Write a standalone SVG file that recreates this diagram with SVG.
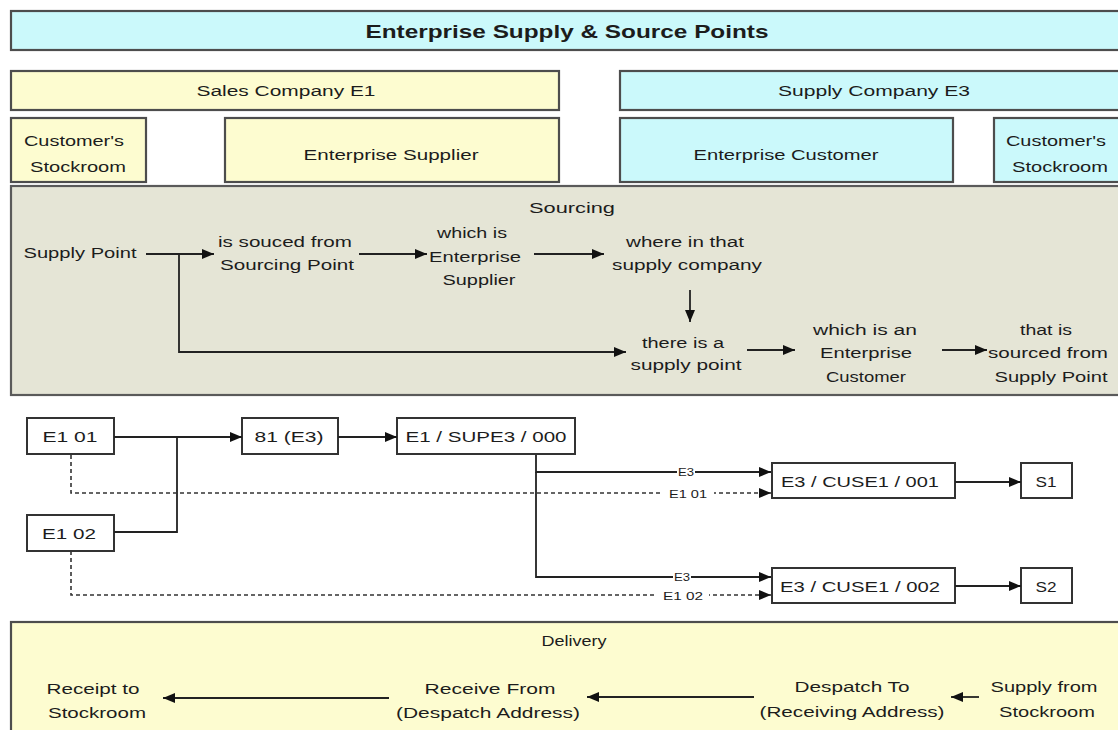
<svg xmlns="http://www.w3.org/2000/svg" width="1118" height="730" viewBox="0 0 1118 730">
<defs>
<marker id="ah" markerUnits="userSpaceOnUse" markerWidth="13" markerHeight="11" refX="12" refY="5" orient="auto">
<path d="M0,0 L12,5 L0,10 z" fill="#111"/>
</marker>
<style>
text{font-family:"Liberation Sans",Arial,sans-serif;font-size:14px;fill:#1c1c1c;text-anchor:middle}
.t{font-size:19px;font-weight:bold}
.b{font-size:15px}
.s{font-size:10px}
.cy{fill:#cbf9fb;stroke:#4d4d4d;stroke-width:2.2}
.yl{fill:#fdfcd0;stroke:#4d4d4d;stroke-width:2.2}
.gr{fill:#e5e5d6;stroke:#5a5a5a;stroke-width:2.2}
.nd{fill:#fff;stroke:#333;stroke-width:2}
.ln{fill:none;stroke:#222;stroke-width:1.8}
.ds{fill:none;stroke:#333;stroke-width:1.6;stroke-dasharray:4,3}
.lb{fill:#fff;stroke:none}
</style>
</defs>
<rect width="1118" height="730" fill="#fff"/>

<g id="title"><rect class="cy" x="11" y="11" width="1120" height="39"/><text class="t" x="567" y="38" textLength="403" lengthAdjust="spacingAndGlyphs">Enterprise Supply &amp; Source Points</text></g>

<g id="sales-company"><rect class="yl" x="11" y="71" width="548" height="39"/><text x="286" y="96" textLength="179" lengthAdjust="spacingAndGlyphs">Sales Company E1</text></g>
<g id="supply-company"><rect class="cy" x="620" y="71" width="510" height="39"/><text x="874" y="96" textLength="192" lengthAdjust="spacingAndGlyphs">Supply Company E3</text></g>

<g id="customers-stockroom-left"><rect class="yl" x="11" y="118" width="135" height="64"/><text x="74" y="146" textLength="100" lengthAdjust="spacingAndGlyphs">Customer's</text><text x="78" y="172" textLength="96" lengthAdjust="spacingAndGlyphs">Stockroom</text></g>
<g id="enterprise-supplier"><rect class="yl" x="225" y="118" width="334" height="64"/><text x="391" y="160" textLength="175" lengthAdjust="spacingAndGlyphs">Enterprise Supplier</text></g>
<g id="enterprise-customer"><rect class="cy" x="620" y="118" width="333" height="64"/><text x="786" y="160" textLength="185" lengthAdjust="spacingAndGlyphs">Enterprise Customer</text></g>
<g id="customers-stockroom-right"><rect class="cy" x="994" y="118" width="140" height="64"/><text x="1056" y="146" textLength="100" lengthAdjust="spacingAndGlyphs">Customer's</text><text x="1060" y="172" textLength="96" lengthAdjust="spacingAndGlyphs">Stockroom</text></g>

<g id="sourcing">
<rect class="gr" x="11" y="186" width="1120" height="209"/>
<text x="572" y="213" textLength="86" lengthAdjust="spacingAndGlyphs">Sourcing</text>
<text x="80" y="258" textLength="113" lengthAdjust="spacingAndGlyphs">Supply Point</text>
<text x="285" y="247" textLength="134" lengthAdjust="spacingAndGlyphs">is souced from</text>
<text x="287" y="270" textLength="134" lengthAdjust="spacingAndGlyphs">Sourcing Point</text>
<text x="472" y="238" textLength="70" lengthAdjust="spacingAndGlyphs">which is</text>
<text x="475" y="262" textLength="92" lengthAdjust="spacingAndGlyphs">Enterprise</text>
<text x="479" y="285" textLength="73" lengthAdjust="spacingAndGlyphs">Supplier</text>
<text x="685" y="247" textLength="118" lengthAdjust="spacingAndGlyphs">where in that</text>
<text x="687" y="270" textLength="150" lengthAdjust="spacingAndGlyphs">supply company</text>
<text x="683" y="348" textLength="82" lengthAdjust="spacingAndGlyphs">there is a</text>
<text x="686" y="370" textLength="111" lengthAdjust="spacingAndGlyphs">supply point</text>
<text x="865" y="335" textLength="104" lengthAdjust="spacingAndGlyphs">which is an</text>
<text x="866" y="358" textLength="92" lengthAdjust="spacingAndGlyphs">Enterprise</text>
<text x="866" y="382" textLength="80" lengthAdjust="spacingAndGlyphs">Customer</text>
<text x="1046" y="335" textLength="52" lengthAdjust="spacingAndGlyphs">that is</text>
<text x="1048" y="358" textLength="120" lengthAdjust="spacingAndGlyphs">sourced from</text>
<text x="1051" y="382" textLength="113" lengthAdjust="spacingAndGlyphs">Supply Point</text>
</g>

<g id="e1-01"><rect class="nd" x="27" y="418" width="87" height="36"/><text class="b" x="70" y="442" textLength="55" lengthAdjust="spacingAndGlyphs">E1 01</text></g>
<g id="e1-02"><rect class="nd" x="27" y="515" width="87" height="36"/><text class="b" x="69" y="539" textLength="54" lengthAdjust="spacingAndGlyphs">E1 02</text></g>
<g id="n81-e3"><rect class="nd" x="242" y="418" width="96" height="36"/><text class="b" x="289" y="442" textLength="69" lengthAdjust="spacingAndGlyphs">81 (E3)</text></g>
<g id="e1-supe3-000"><rect class="nd" x="397" y="418" width="178" height="36"/><text class="b" x="486" y="442" textLength="161" lengthAdjust="spacingAndGlyphs">E1 / SUPE3 / 000</text></g>
<g id="e3-cuse1-001"><rect class="nd" x="772" y="463" width="183" height="35"/><text class="b" x="860" y="487" textLength="158" lengthAdjust="spacingAndGlyphs">E3 / CUSE1 / 001</text></g>
<g id="s1"><rect class="nd" x="1021" y="463" width="51" height="35"/><text class="b" x="1046" y="487" textLength="21" lengthAdjust="spacingAndGlyphs">S1</text></g>
<g id="e3-cuse1-002"><rect class="nd" x="772" y="568" width="183" height="35"/><text class="b" x="860" y="592" textLength="160" lengthAdjust="spacingAndGlyphs">E3 / CUSE1 / 002</text></g>
<g id="s2"><rect class="nd" x="1021" y="568" width="51" height="35"/><text class="b" x="1046" y="592" textLength="21" lengthAdjust="spacingAndGlyphs">S2</text></g>

<g id="delivery">
<rect class="yl" x="11" y="622" width="1120" height="120"/>
<text x="574" y="646" textLength="65" lengthAdjust="spacingAndGlyphs">Delivery</text>
<text x="93" y="694" textLength="93" lengthAdjust="spacingAndGlyphs">Receipt to</text>
<text x="97" y="718" textLength="98" lengthAdjust="spacingAndGlyphs">Stockroom</text>
<text x="490" y="694" textLength="131" lengthAdjust="spacingAndGlyphs">Receive From</text>
<text x="488" y="718" textLength="184" lengthAdjust="spacingAndGlyphs">(Despatch Address)</text>
<text x="852" y="692" textLength="115" lengthAdjust="spacingAndGlyphs">Despatch To</text>
<text x="852" y="717" textLength="185" lengthAdjust="spacingAndGlyphs">(Receiving Address)</text>
<text x="1044" y="692" textLength="107" lengthAdjust="spacingAndGlyphs">Supply from</text>
<text x="1047" y="717" textLength="96" lengthAdjust="spacingAndGlyphs">Stockroom</text>
</g>

<g id="connectors">
<path class="ln" d="M146,254 H214" marker-end="url(#ah)"/>
<path class="ln" d="M179,254 V352 H626" marker-end="url(#ah)"/>
<path class="ln" d="M359,254 H427" marker-end="url(#ah)"/>
<path class="ln" d="M534,254 H604" marker-end="url(#ah)"/>
<path class="ln" d="M690,290 V322" marker-end="url(#ah)"/>
<path class="ln" d="M747,350 H795" marker-end="url(#ah)"/>
<path class="ln" d="M942,350 H987" marker-end="url(#ah)"/>

<path class="ln" d="M114,437 H242" marker-end="url(#ah)"/>
<path class="ln" d="M114,532 H177 V437"/>
<path class="ln" d="M338,437 H397" marker-end="url(#ah)"/>
<path class="ln" d="M536,455 V472 H771" marker-end="url(#ah)"/>
<path class="ln" d="M536,472 V577 H771" marker-end="url(#ah)"/>
<path class="ds" d="M71,455 V493 H771" marker-end="url(#ah)"/>
<path class="ds" d="M71,551 V595 H771" marker-end="url(#ah)"/>
<path class="ln" d="M955,482 H1021" marker-end="url(#ah)"/>
<path class="ln" d="M955,586 H1021" marker-end="url(#ah)"/>

<rect class="lb" x="677" y="466" width="18" height="11"/><text class="s" x="686" y="476" textLength="16" lengthAdjust="spacingAndGlyphs">E3</text>
<rect class="lb" x="662" y="487" width="52" height="13"/><text class="s" x="688" y="498" textLength="38" lengthAdjust="spacingAndGlyphs">E1 01</text>
<rect class="lb" x="673" y="571" width="18" height="11"/><text class="s" x="682" y="581" textLength="16" lengthAdjust="spacingAndGlyphs">E3</text>
<rect class="lb" x="657" y="589" width="52" height="13"/><text class="s" x="683" y="600" textLength="40" lengthAdjust="spacingAndGlyphs">E1 02</text>

<path class="ln" d="M389,698 H163" marker-end="url(#ah)"/>
<path class="ln" d="M754,697 H587" marker-end="url(#ah)"/>
<path class="ln" d="M979,697 H951" marker-end="url(#ah)"/>
</g>
</svg>
